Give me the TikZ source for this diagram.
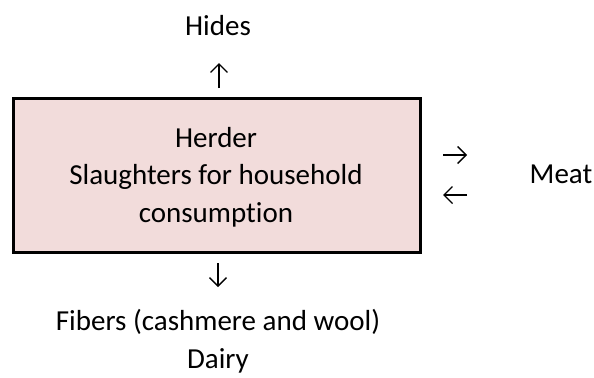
\documentclass[tikz,border=0pt]{standalone}
\usepackage{fontspec}
\setmainfont[Ligatures=NoCommon]{Carlito}
\usetikzlibrary{arrows.meta}
\definecolor{herderfill}{HTML}{F2DCDB}
\tikzset{
  lbl/.style={font=\fontsize{29bp}{37.5bp}\selectfont, inner sep=0pt, align=center, anchor=base},
  flow/.style={line width=1.4bp, -{Straight Barb[length=8.5bp,width=17bp,line width=1.4bp]}},
  herderbox/.style={draw=black, line width=3bp, fill=herderfill},
}
\begin{document}
\begin{tikzpicture}[x=1bp,y=-1bp]
  \useasboundingbox (0,0) rectangle (594,377);
  % main box
  \draw[herderbox] (13,98) rectangle (420,252);
  % multi-line nodes are anchored at the baseline of their last line
  \node[lbl] (herder) at (216,222) {Herder\\Slaughters for household\\consumption};
  % outputs
  \node[lbl] (hides) at (218,35) {Hides};
  \node[lbl] (meat) at (561,183) {Meat};
  \node[lbl] (fibers) at (218,368) {Fibers (cashmere and wool)\\Dairy};
  % arrows
  \coordinate (upA) at (219,88);  \coordinate (upB) at (219,63);
  \coordinate (dnA) at (218,263); \coordinate (dnB) at (218,287);
  \coordinate (rtA) at (443,155); \coordinate (rtB) at (467,155);
  \coordinate (ltA) at (467,195); \coordinate (ltB) at (443,195);
  \draw[flow] (upA) -- (upB);
  \draw[flow] (dnA) -- (dnB);
  \draw[flow] (rtA) -- (rtB);
  \draw[flow] (ltA) -- (ltB);
\end{tikzpicture}
\end{document}
